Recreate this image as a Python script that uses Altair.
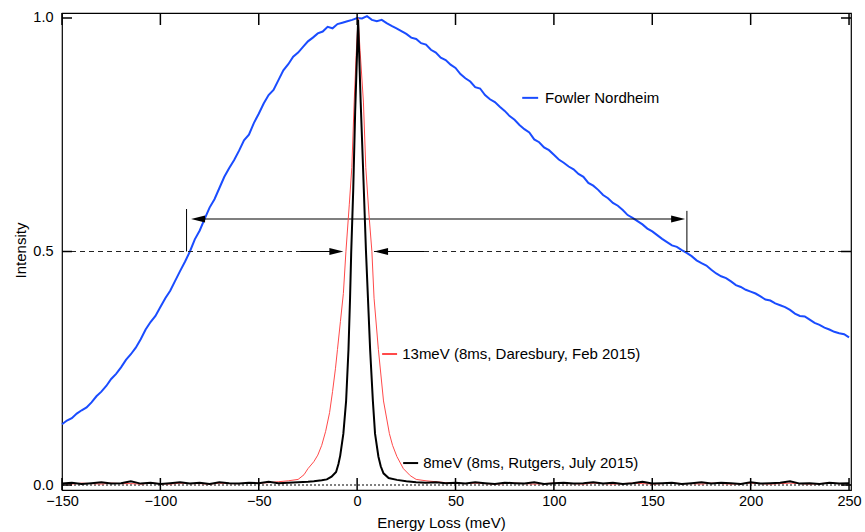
import altair as alt
import pandas as pd

# ---------------- data ----------------
blue_x = [-150 + 2.5 * i for i in range(161)]
blue_y = [0.130, 0.138, 0.143, 0.153, 0.160, 0.166, 0.177, 0.190,
          0.200, 0.212, 0.227, 0.238, 0.252, 0.268, 0.280, 0.294,
          0.312, 0.333, 0.349, 0.362, 0.381, 0.400, 0.416, 0.437,
          0.458, 0.478, 0.500, 0.526, 0.545, 0.570, 0.594, 0.612,
          0.636, 0.660, 0.679, 0.696, 0.716, 0.738, 0.750, 0.775,
          0.795, 0.817, 0.835, 0.846, 0.867, 0.888, 0.901, 0.917,
          0.926, 0.938, 0.950, 0.958, 0.967, 0.971, 0.981, 0.978,
          0.987, 0.990, 0.993, 0.996, 1.000, 0.999, 1.004, 0.996,
          0.993, 0.996, 0.989, 0.983, 0.978, 0.972, 0.966, 0.958,
          0.955, 0.946, 0.943, 0.932, 0.926, 0.915, 0.910, 0.900,
          0.893, 0.880, 0.871, 0.864, 0.852, 0.849, 0.835, 0.826,
          0.820, 0.810, 0.801, 0.790, 0.782, 0.771, 0.762, 0.755,
          0.740, 0.734, 0.723, 0.717, 0.707, 0.697, 0.690, 0.682,
          0.676, 0.666, 0.660, 0.647, 0.641, 0.632, 0.621, 0.614,
          0.604, 0.598, 0.589, 0.578, 0.572, 0.565, 0.558, 0.549,
          0.543, 0.535, 0.527, 0.520, 0.513, 0.510, 0.503, 0.497,
          0.490, 0.481, 0.475, 0.470, 0.461, 0.453, 0.447, 0.443,
          0.436, 0.428, 0.424, 0.418, 0.414, 0.410, 0.404, 0.397,
          0.395, 0.389, 0.385, 0.381, 0.375, 0.367, 0.362, 0.361,
          0.354, 0.347, 0.343, 0.337, 0.333, 0.328, 0.325, 0.323,
          0.316]

red_left_x = list(range(-150, -49, 5))
red_left_y = [0.003, 0.002, 0.004, 0.003, 0.002, 0.004, 0.003, 0.003, 0.002, 0.004,
              0.003, 0.002, 0.004, 0.003, 0.003, 0.002, 0.004, 0.003, 0.003, 0.004,
              0.004]
red_core_x = [-45, -40, -35, -30, -27, -25, -22, -20, -18, -16, -14, -12.5, -11, -10,
              -8.5, -7, -5.7, -4, -2.7, -1.5, -0.5, 0.5, 1.5, 3.2, 4.4, 6, 7.5, 8.6,
              10.8, 13.4, 16.4, 18, 20.2, 23.5, 27, 30, 35, 40, 45, 50]
red_core_y = [0.005, 0.007, 0.009, 0.012, 0.022, 0.035, 0.050, 0.064, 0.085, 0.115,
              0.155, 0.200, 0.250, 0.290, 0.350, 0.410, 0.500, 0.600, 0.680, 0.820,
              0.920, 1.000, 0.930, 0.820, 0.680, 0.580, 0.500, 0.400, 0.290, 0.180,
              0.110, 0.085, 0.061, 0.035, 0.020, 0.012, 0.009, 0.007, 0.005, 0.004]
red_right_x = list(range(55, 251, 5))
red_right_y = [0.003, 0.004, 0.003, 0.002, 0.003, 0.004, 0.003, 0.002, 0.003, 0.004,
               0.003, 0.003, 0.002, 0.004, 0.003, 0.002, 0.003, 0.004, 0.003, 0.002,
               0.003, 0.004, 0.003, 0.003, 0.002, 0.004, 0.003, 0.002, 0.003, 0.004,
               0.003, 0.002, 0.003, 0.004, 0.003, 0.002, 0.003, 0.004, 0.003, 0.003]

black_left_x = list(range(-150, -24, 5))
black_left_y = [0.003, 0.005, 0.002, 0.004, 0.006, 0.003, 0.004, 0.008, 0.003, 0.005,
                0.002, 0.004, 0.006, 0.003, 0.005, 0.002, 0.006, 0.004, 0.003, 0.005,
                0.004, 0.007, 0.004, 0.005, 0.006, 0.007]
black_core_x = [-22, -18, -15.4, -13, -10.7, -9.5, -8.6, -7, -5.6, -4.4, -3.6, -3.0,
                -2.0, -1.0, 0.5, 1.8, 3.0, 4.5, 5.5, 6.6, 8, 9.1, 10.8, 12, 13.4, 16,
                20.2, 25, 30]
black_core_y = [0.008, 0.010, 0.012, 0.018, 0.028, 0.045, 0.063, 0.110, 0.180, 0.290,
                0.400, 0.500, 0.630, 0.800, 0.996, 0.820, 0.680, 0.500, 0.400, 0.290,
                0.180, 0.110, 0.061, 0.040, 0.025, 0.015, 0.011, 0.008, 0.006]
black_right_x = list(range(35, 251, 5))
black_right_y = [0.005, 0.006, 0.004, 0.005, 0.003, 0.006, 0.004, 0.002, 0.005, 0.004,
                 0.003, 0.006, 0.002, 0.004, 0.005, 0.003, 0.004, 0.006, 0.003, 0.005,
                 0.002, 0.004, 0.007, 0.003, 0.004, 0.005, 0.002, 0.004, 0.006, 0.003,
                 0.005, 0.004, 0.002, 0.006, 0.003, 0.004, 0.005, 0.008, 0.003, 0.004,
                 0.002, 0.005, 0.003, 0.004]

x_ticks = [-150, -100, -50, 0, 50, 100, 150, 200, 250]
y_ticks = [0.0, 0.5, 1.0]

labels = ["Fowler Nordheim", "13meV (8ms, Daresbury, Feb 2015)", "8meV (8ms, Rutgers, July 2015)"]
label_colors = ["#1a4cff", "#ff4a4a", "#000000"]
label_y = [0.829, 0.2805, 0.047]
label_seg_x = [83.9, 12.7, 23.4]
label_seg_x2 = [92.0, 20.3, 31.0]
label_text_x = [95.5, 22.9, 33.6]

# ---------------- tables ----------------
blue = pd.DataFrame({"x": blue_x, "y": blue_y})
red = pd.DataFrame({"x": red_left_x + red_core_x + red_right_x,
                    "y": red_left_y + red_core_y + red_right_y})
black = pd.DataFrame({"x": black_left_x + black_core_x + black_right_x,
                      "y": black_left_y + black_core_y + black_right_y})

W, H = 789, 477
FONT = "Liberation Sans"
X0, X1 = -150, 251
Y0, Y1 = -0.0107, 1.0107
xs = alt.Scale(domain=[X0, X1], nice=False, zero=False)
ys = alt.Scale(domain=[Y0, Y1], nice=False, zero=False)
px_x = (X1 - X0) / W   # data units per pixel
px_y = (Y1 - Y0) / H

X = alt.X("x:Q", scale=xs,
          axis=alt.Axis(values=x_ticks, tickSize=0, domain=False, grid=False,
                        labelFontSize=14.5, labelFont=FONT, labelColor="black",
                        labelPadding=4, title="Energy Loss (meV)", titleFont=FONT,
                        titleFontSize=15, titleFontWeight="normal", titleColor="black",
                        titleX=379, titleY=37, titleBaseline="alphabetic",
                        labelOverlap=False, labelFlush=False))
Y = alt.Y("y:Q", scale=ys,
          axis=alt.Axis(values=y_ticks, format=".1f", tickSize=0, domain=False, grid=False,
                        labelFontSize=14.5, labelFont=FONT, labelColor="black",
                        labelPadding=9, title="Intensity", titleFont=FONT,
                        titleFontSize=15, titleFontWeight="normal", titleColor="black",
                        titleX=-42, titleY=237, titleBaseline="middle", titleAlign="center"))

base_blue = alt.Chart(blue).mark_line(color="#1a4cff", strokeWidth=2).encode(x=X, y=Y)
line_red = alt.Chart(red).mark_line(color="#ff4a4a", strokeWidth=1).encode(x="x:Q", y="y:Q")
line_black = alt.Chart(black).mark_line(color="black", strokeWidth=2).encode(x="x:Q", y="y:Q")

# reference lines
zero_line = alt.Chart(pd.DataFrame({"x": [X0], "x2": [X1], "y": [0.0]})).mark_rule(
    color="black", strokeWidth=1, strokeDash=[2, 2]).encode(x="x:Q", x2="x2:Q", y="y:Q")
half_dash = alt.Chart(pd.DataFrame({"x": [X0, 34], "x2": [-29, X1], "y": [0.5, 0.5]})).mark_rule(
    color="#222222", strokeWidth=1, strokeDash=[5, 4]).encode(x="x:Q", x2="x2:Q", y="y:Q")
half_solid = alt.Chart(pd.DataFrame({"x": [-29, 8.6], "x2": [-10, 34], "y": [0.5, 0.5]})).mark_rule(
    color="black", strokeWidth=1).encode(x="x:Q", x2="x2:Q", y="y:Q")
fw_arrow = alt.Chart(pd.DataFrame({"x": [-82], "x2": [164], "y": [0.5696]})).mark_rule(
    color="black", strokeWidth=1.2).encode(x="x:Q", x2="x2:Q", y="y:Q")
fw_vert = alt.Chart(pd.DataFrame({"x": [-86.7, 167.6], "y": [0.5, 0.5], "y2": [0.591, 0.587]})).mark_rule(
    color="black", strokeWidth=1).encode(x="x:Q", y="y:Q", y2="y2:Q")

RIGHT = "M 0 0 L -4 -1 L -4 1 Z"
LEFT = "M 0 0 L 4 -1 L 4 1 Z"
heads_r = alt.Chart(pd.DataFrame({"x": [166.7, -7.0], "y": [0.5696, 0.5]})).mark_point(
    shape=RIGHT, filled=True, size=49, color="black", opacity=1).encode(x="x:Q", y="y:Q")
heads_l = alt.Chart(pd.DataFrame({"x": [-84.4, 8.6], "y": [0.5696, 0.5]})).mark_point(
    shape=LEFT, filled=True, size=49, color="black", opacity=1).encode(x="x:Q", y="y:Q")

# inward ticks on all four sides (12 px long on x, 10 px on y)
n = len(x_ticks)
m = len(y_ticks)
vt = pd.DataFrame({
    "tkx": x_ticks + x_ticks,
    "tky": [Y0] * n + [Y1] * n,
    "tky2": [Y0 + 12 * px_y] * n + [Y1 - 12 * px_y] * n,
})
ht = pd.DataFrame({
    "tly": y_ticks + y_ticks,
    "tlx": [X0] * m + [X1] * m,
    "tlx2": [X0 + 10 * px_x] * m + [X1 - 10 * px_x] * m,
})
v_ticks = alt.Chart(vt).mark_rule(color="black", strokeWidth=1.5).encode(
    x=alt.X("tkx:Q", scale=xs), y=alt.Y("tky:Q", scale=ys), y2="tky2:Q")
h_ticks = alt.Chart(ht).mark_rule(color="black", strokeWidth=1.5).encode(
    y=alt.Y("tly:Q", scale=ys), x=alt.X("tlx:Q", scale=xs), x2="tlx2:Q")

# in-plot labels
lab = pd.DataFrame({"label": labels, "color": label_colors, "y": label_y,
                    "x": label_seg_x, "x2": label_seg_x2, "tx": label_text_x})
lab_seg = alt.Chart(lab).mark_rule(strokeWidth=2).encode(
    x="x:Q", x2="x2:Q", y="y:Q", color=alt.Color("color:N", scale=None))
lab_txt = alt.Chart(lab).mark_text(align="left", baseline="middle", font=FONT,
                                   fontSize=15, color="black").encode(
    x="tx:Q", y="y:Q", text="label:N")

chart = alt.layer(
    base_blue, zero_line, half_dash, half_solid, fw_arrow, fw_vert, heads_r, heads_l,
    line_red, line_black, v_ticks, h_ticks, lab_seg, lab_txt
).properties(
    width=W, height=H,
    autosize=alt.AutoSizeParams(type="none"),
    padding={"left": 62, "top": 13, "right": 14, "bottom": 42},
    background="white",
).configure_view(stroke="black", strokeWidth=1.2)

chart.save("out.html", embed_options={"renderer": "svg", "actions": False})
